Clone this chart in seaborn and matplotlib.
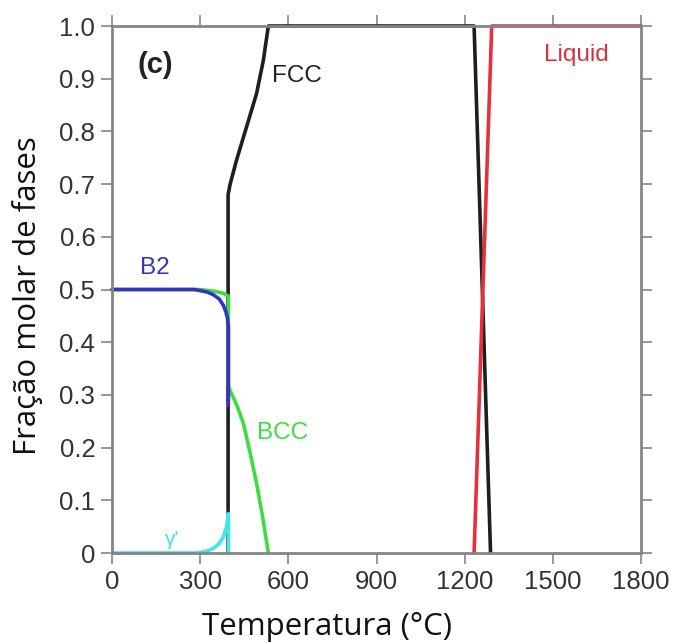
import matplotlib
matplotlib.use("Agg")
import matplotlib.pyplot as plt
import seaborn as sns
import pandas as pd

# ---- data ----
fcc_T = [395, 395, 402, 424, 458, 492, 515, 532, 1232, 1288]
fcc_f = [0.0, 0.68, 0.70, 0.746, 0.809, 0.872, 0.935, 1.0, 1.0, 0.0]

liquid_T = [1232, 1292, 1800]
liquid_f = [0.0, 1.0, 1.0]

bcc_T = [0, 299, 345, 379, 396, 396, 401, 425, 447, 470, 492, 512, 532]
bcc_f = [0.5, 0.5, 0.497, 0.493, 0.487, 0.32, 0.309, 0.28, 0.246, 0.19, 0.132, 0.07, 0.0]

b2_T = [0, 250, 280, 299, 325, 345, 365, 379, 388, 393, 396, 396]
b2_f = [0.5, 0.5, 0.5, 0.498, 0.495, 0.49, 0.482, 0.47, 0.457, 0.445, 0.43, 0.28]

gp_T = [0, 290, 310, 330, 345, 365, 379, 390, 396, 396]
gp_f = [0.0, 0.0, 0.002, 0.005, 0.009, 0.018, 0.031, 0.05, 0.075, 0.0]

x_ticks = [0, 300, 600, 900, 1200, 1500, 1800]
y_ticks = [0, 0.1, 0.2, 0.3, 0.4, 0.5, 0.6, 0.7, 0.8, 0.9, 1.0]
y_ticklabels = ["0", "0.1", "0.2", "0.3", "0.4", "0.5", "0.6", "0.7", "0.8", "0.9", "1.0"]

series = [
    ("FCC", fcc_T, fcc_f, "#1e1e1e"),
    ("Liquid", liquid_T, liquid_f, "#e8303c"),
    ("BCC", bcc_T, bcc_f, "#3fdc3f"),
    ("B2", b2_T, b2_f, "#3434c4"),
    ("γ'", gp_T, gp_f, "#3ee6e6"),
]

sns.set_style("ticks")
plt.rcParams['font.family'] = ['Liberation Sans', 'DejaVu Sans']

fig = plt.figure(figsize=(6.73, 6.44), dpi=100)
ax = fig.add_axes([0.1664, 0.1413, 0.7861, 0.8183])

for name, T, f, col in series:
    df = pd.DataFrame({"T": T, "f": f})
    sns.lineplot(data=df, x="T", y="f", sort=False, estimator=None,
                 color=col, linewidth=2.6, ax=ax, clip_on=False)

ax.set_xlim(0, 1800)
ax.set_ylim(0, 1.0)
ax.set_xticks(x_ticks)
ax.set_xticklabels([str(t) for t in x_ticks])
ax.set_yticks(y_ticks)
ax.set_yticklabels(y_ticklabels)

spine_col = "#858585"
for s in ax.spines.values():
    s.set_visible(True)
    s.set_color(spine_col)
    s.set_linewidth(2.0)

ax.tick_params(axis="both", which="both", direction="out", top=True, right=True,
               length=8, width=1.2, color=spine_col, labelsize=18.5,
               labelcolor="#333333", pad=4)
ax.tick_params(axis="x", labeltop=False)
ax.tick_params(axis="y", labelright=False)

ax.set_xlabel("")
ax.set_ylabel("")
lab_font = ["Open Sans", "DejaVu Sans"]
fig.text(327 / 673, 1 - 635 / 644, "Temperatura (°C)", fontsize=22.5, family=lab_font,
         color="#111111", ha="center", va="baseline")
fig.text(28 / 673, 1 - 296 / 644, "Fração molar de fases", fontsize=22.5, family=lab_font,
         color="#111111", ha="center", va="center", rotation=90)

# annotations
ax.text(146, 0.926, "(c)", fontsize=21, fontweight="bold", color="#222222", ha="center", va="center")
ax.text(545, 0.905, "FCC", fontsize=17.5, color="#222222", ha="left", va="center")
ax.text(1470, 0.945, "Liquid", fontsize=17.5, color="#d83040", ha="left", va="center")
ax.text(95, 0.54, "B2", fontsize=17.5, color="#3434c4", ha="left", va="center")
ax.text(495, 0.228, "BCC", fontsize=17.5, color="#3fdc3f", ha="left", va="center")
ax.text(180, 0.026, "γ'", fontsize=15, color="#3ee6e6", ha="left", va="center")

fig.savefig("out.png", dpi=100)
